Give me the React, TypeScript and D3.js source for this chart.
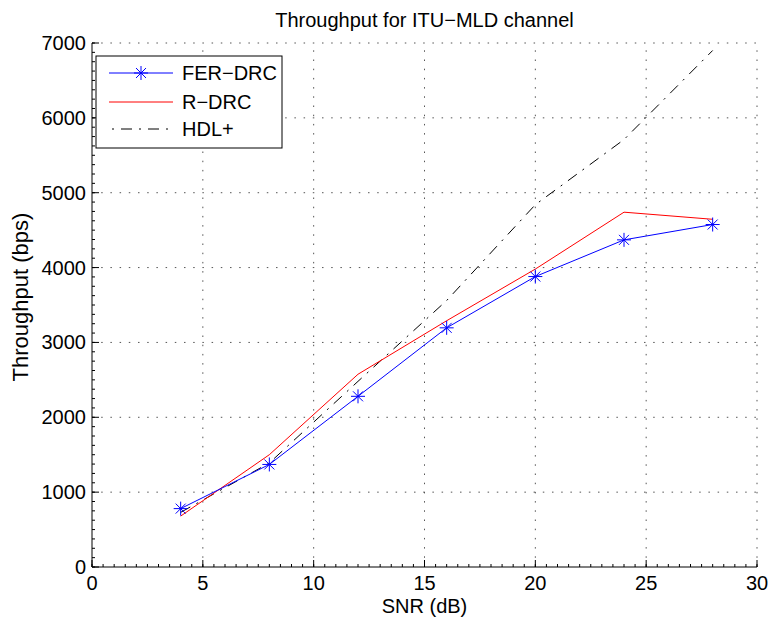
import React from "react";
import * as d3 from "d3";

const snr = [4, 8, 12, 16, 20, 24, 28];
const ferDrc = [780, 1370, 2280, 3195, 3880, 4370, 4575];
const rDrc = [680, 1500, 2575, 3290, 3980, 4740, 4645];
const hdlPlus = [730, 1390, 2480, 3560, 4840, 5710, 6900];
const xTicks = [0, 5, 10, 15, 20, 25, 30];
const yTicks = [0, 1000, 2000, 3000, 4000, 5000, 6000, 7000];
const legendNames = ["FER\u2212DRC", "R\u2212DRC", "HDL+"];

const W = 772, H = 622;
const L = 92, R = 757, T = 43, B = 567;
const FONT = "'Liberation Sans', Arial, Helvetica, sans-serif";

function Asterisk({ cx, cy }: { cx: number; cy: number }) {
  const s = 7, d = 5;
  return (
    <g stroke="#0000ff" strokeWidth={1}>
      <line x1={cx - s} y1={cy} x2={cx + s} y2={cy} />
      <line x1={cx} y1={cy - s} x2={cx} y2={cy + s} />
      <line x1={cx - d} y1={cy - d} x2={cx + d} y2={cy + d} />
      <line x1={cx - d} y1={cy + d} x2={cx + d} y2={cy - d} />
    </g>
  );
}

export default function App() {
  const x = d3.scaleLinear().domain([0, 30]).range([L, R]);
  const y = d3.scaleLinear().domain([0, 7000]).range([B, T]);
  const line = d3.line<[number, number]>().x(d => x(d[0])).y(d => y(d[1]));
  const pts = (vals: number[]) => snr.map((s, i) => [s, vals[i]] as [number, number]);
  const xMinor = d3.range(0, 30.001, 0.5);
  const yMinor = d3.range(0, 7000.1, 125);

  return (
    <svg width={W} height={H} style={{ position: "absolute", left: 0, top: 0, background: "#fff" }}>
      <rect width={W} height={H} fill="#fff" />
      {/* grid */}
      <g stroke="#555" strokeWidth={1} strokeDasharray="1.5,7.7">
        {xTicks.slice(1).map(t => (
          <line key={"gx" + t} x1={x(t)} x2={x(t)} y1={B} y2={T} />
        ))}
        {yTicks.slice(1).map(t => (
          <line key={"gy" + t} x1={L} x2={R} y1={y(t)} y2={y(t)} />
        ))}
      </g>
      {/* minor ticks */}
      <g stroke="#000" strokeWidth={1}>
        {xMinor.map(t => (
          <line key={"mx" + t} x1={x(t)} x2={x(t)} y1={B} y2={B - 3} />
        ))}
        {yMinor.map(t => (
          <line key={"my" + t} x1={L} x2={L + 3} y1={y(t)} y2={y(t)} />
        ))}
        {xTicks.map(t => (
          <line key={"tx" + t} x1={x(t)} x2={x(t)} y1={B} y2={B - 7} />
        ))}
        {yTicks.map(t => (
          <line key={"ty" + t} x1={L} x2={L + 7} y1={y(t)} y2={y(t)} />
        ))}
        <line x1={L} x2={R} y1={B} y2={B} />
        <line x1={L} x2={L} y1={B} y2={T} />
      </g>
      {/* tick labels */}
      <g fontFamily={FONT} fontSize={20} fill="#000">
        {xTicks.map(t => (
          <text key={"lx" + t} x={x(t)} y={590} textAnchor="middle">{t}</text>
        ))}
        {yTicks.map(t => (
          <text key={"ly" + t} x={86} y={y(t) + 7} textAnchor="end">{t}</text>
        ))}
      </g>
      {/* series */}
      <path d={line(pts(hdlPlus)) || ""} fill="none" stroke="#000" strokeWidth={1} strokeDasharray="11,7,2,7" />
      <path d={line(pts(rDrc)) || ""} fill="none" stroke="#ff0000" strokeWidth={1} />
      <path d={line(pts(ferDrc)) || ""} fill="none" stroke="#0000ff" strokeWidth={1} />
      {pts(ferDrc).map((p, i) => (
        <Asterisk key={"m" + i} cx={x(p[0])} cy={y(p[1])} />
      ))}
      {/* titles */}
      <text x={(L + R) / 2} y={27} textAnchor="middle" fontFamily={FONT} fontSize={20}>
        Throughput for ITU{"\u2212"}MLD channel
      </text>
      <text x={(L + R) / 2} y={613} textAnchor="middle" fontFamily={FONT} fontSize={20}>
        SNR (dB)
      </text>
      <text transform={`translate(28,${(T + B) / 2 - 8}) rotate(-90)`} textAnchor="middle" fontFamily={FONT} fontSize={22}>
        Throughput (bps)
      </text>
      {/* legend */}
      <g>
        <rect x={96} y={56} width={186} height={92} fill="#fff" stroke="#000" strokeWidth={1} />
        <line x1={109} x2={173} y1={73} y2={73} stroke="#0000ff" />
        <Asterisk cx={141} cy={73} />
        <line x1={109} x2={173} y1={102} y2={102} stroke="#ff0000" />
        <line x1={109} x2={173} y1={129} y2={129} stroke="#000" strokeDasharray="11,7,2,7" strokeDashoffset={-12} />
        {legendNames.map((n, i) => (
          <text key={n} x={182} y={[73, 102, 129][i] + 7} fontFamily={FONT} fontSize={20}>{n}</text>
        ))}
      </g>
    </svg>
  );
}
